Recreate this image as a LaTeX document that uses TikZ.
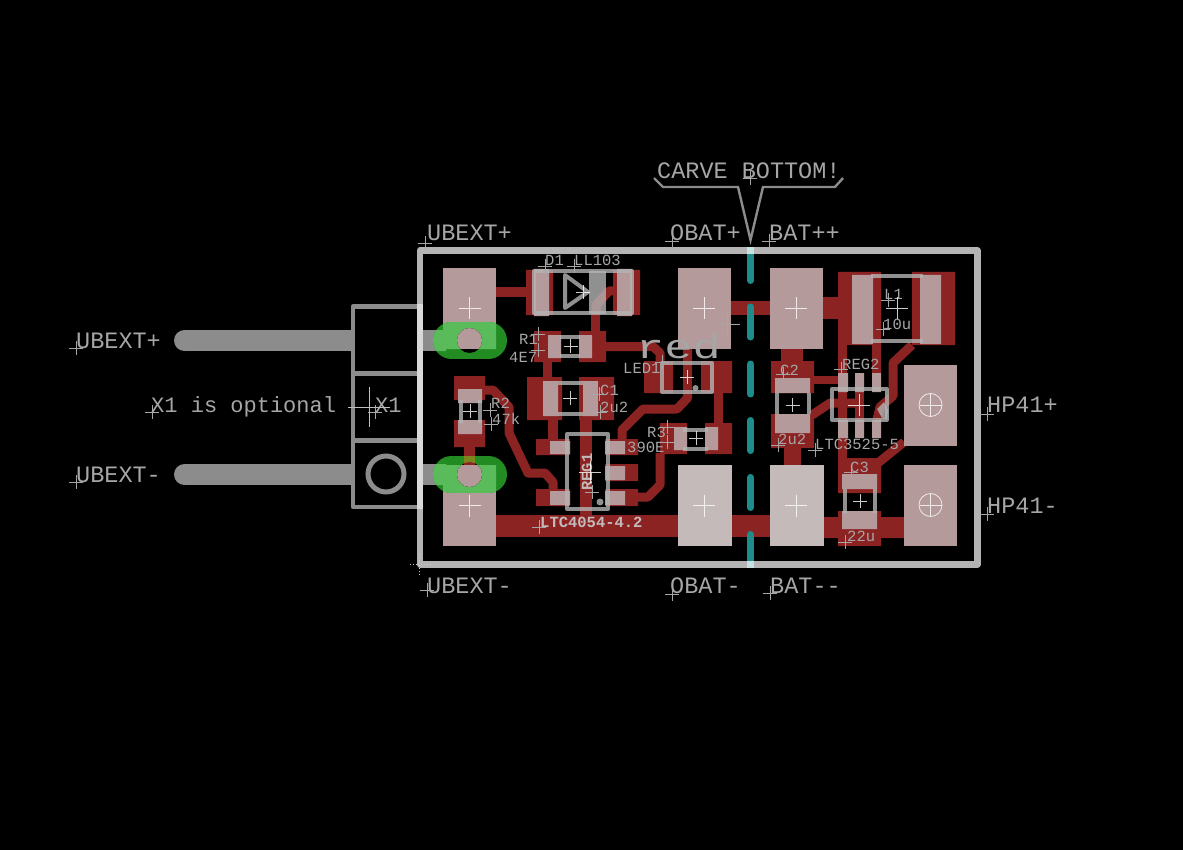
\documentclass[tikz,border=0pt]{standalone}
\usepackage{fontspec}
\setmonofont{Liberation Mono}
\definecolor{copperred}{HTML}{8C2323}
\definecolor{padpink}{HTML}{B49A9A}
\definecolor{padpale}{HTML}{C4BABA}
\definecolor{pingray}{HTML}{8C8C8C}
\definecolor{boardgray}{HTML}{B4B4B4}
\definecolor{txtgray}{HTML}{A6A6A6}
\definecolor{carveteal}{HTML}{1F8C8C}
\definecolor{viagreen}{HTML}{228B22}
\definecolor{vialight}{HTML}{5ABB5A}
\tikzset{
  copper/.style={fill=copperred},
  trace/.style={draw=copperred,line width=9pt,line join=round},
  pad/.style={fill=padpink},
  silk/.style={draw=boardgray,draw opacity=.8,line width=4pt,line join=round},
  silkfill/.style={fill=boardgray,fill opacity=.8},
  orig/.style={draw=txtgray,line width=.7pt},
  centremark/.style={draw=white,draw opacity=.8,line width=.8pt},
  lbl/.style={text=txtgray,anchor=base west,inner sep=0pt,font=\ttfamily\fontsize{23.5}{24}\selectfont},
  midlbl/.style={lbl,font=\ttfamily\fontsize{22}{24}\selectfont},
  smalllbl/.style={lbl,font=\ttfamily\fontsize{15.5}{16}\selectfont},
  boldlbl/.style={lbl,text=padpale,font=\ttfamily\bfseries\fontsize{15.5}{16}\selectfont},
}
\begin{document}
\begin{tikzpicture}[x=1pt,y=-1pt]
\useasboundingbox (0,0) rectangle (1183,850);
\fill[black] (0,0) rectangle (1183,850);

% connector X1
\foreach \y in {340.5,474.5}{
  \fill[pingray] (184.5,\y) circle (10.5);
  \fill[pingray] (184.5,\y-10.5) rectangle (353,\y+10.5);
  \fill[pingray] (420,\y-10.5) rectangle (446,\y+10.5);
}
\draw[pingray,line width=4.5pt,line join=round] (420,306.5)--(353,306.5)--(353,507)--(420,507);
\draw[pingray,line width=4.5pt] (353,373.5)--(420,373.5) (353,440.5)--(420,440.5);
\draw[pingray,line width=5pt] (386,474) circle (18);

% copper pads
\fill[copper] (526,270) rectangle (553,315) (613,270) rectangle (640,315); %D1
\fill[copper] (534,331) rectangle (561,362) (579,331) rectangle (606,362); %R1
\fill[copper] (527,377) rectangle (562,420) (579,377) rectangle (614,420); %C1
\fill[copper] (454,376) rectangle (485,400) (454,420) rectangle (485,447); %R2
\fill[copper] (644,361) rectangle (673,393) (701,361) rectangle (732,393); %LED1
\fill[copper] (660,423) rectangle (687,454) (705,423) rectangle (732,454); %R3
\fill[copper] (536,439) rectangle (570,455) (536,489) rectangle (570,506); %REG1
\fill[copper] (605,439) rectangle (638,455) (605,464) rectangle (638,481) (605,489) rectangle (638,506);
\fill[copper] (771,361) rectangle (814,393) (771,414) rectangle (814,448); %C2
\fill[copper] (838,458) rectangle (881,493) (838,511) rectangle (881,546); %C3
\fill[copper] (838,272) rectangle (881,345) (912,272) rectangle (955,345); %L1

% copper traces
\fill[copper] (496,287) rectangle (527,297);
\fill[copper] (591,315) rectangle (600,332);
\fill[copper] (543,362) rectangle (552,377);
\fill[copper] (548,420) rectangle (558,440);
\fill[copper] (580,420) rectangle (592,520);
\fill[copper] (496,515) rectangle (678,537);
\fill[copper] (731,515) rectangle (770,537);
\fill[copper] (731,301) rectangle (770,315);
\fill[copper] (714,393) rectangle (723,423);
\fill[copper] (464,447) rectangle (475,456);
\fill[copper] (781,349) rectangle (803,361);
\fill[copper] (784,448) rectangle (801,465);
\fill[copper] (823,297) rectangle (838,319);
\fill[copper] (814,376) rectangle (838,384);
\fill[copper] (838,345) rectangle (847,458);
\fill[copper] (872,345) rectangle (881,373);
\fill[copper] (855,373) rectangle (864,438);
\fill[copper] (872,373) rectangle (881,392);
\fill[copper] (838,420) rectangle (881,438);
\fill[black] (848,420) rectangle (855,438) (864,420) rectangle (872,438);
\fill[copper] (824,517) rectangle (838,538) (881,517) rectangle (904,538);
\draw[trace] (596,315)--(596,305)--(609,291)--(620,291);
\draw[trace] (606,346.5)--(653,346.5)--(660,353)--(660,365);
\draw[trace] (687.5,349)--(687.5,398)--(677,409)--(643,409)--(622,430)--(622,440);
\draw[trace] (660,453)--(660,485)--(648,497)--(630,497);
\draw[trace] (485,390)--(493,390)--(509,407)--(509,433)--(528,473)--(545,473)--(553,482)--(553,490);
\draw[trace] (812,415)--(830,403)--(860,403);
\draw[trace] (912,345)--(893,363)--(893,396)--(880,407)--(877,420);
\draw[trace] (878,463)--(904,442);

% big pads
\fill[pad] (443,268) rectangle (496,349);
\fill[pad] (443,465) rectangle (496,546);
\fill[pad] (678,268) rectangle (731,349);
\fill[pad] (770,268) rectangle (823,349);
\fill[pad] (904,365) rectangle (957,446);
\fill[pad] (904,465) rectangle (957,546);
\fill[padpale] (678,465) rectangle (732,546);
\fill[padpale] (770,465) rectangle (824,546);

% green pills and their holes
\draw[viagreen,line width=37pt,line cap=round] (451.5,340.5)--(488.5,340.5);
\draw[viagreen,line width=37pt,line cap=round] (451.5,474.5)--(488.5,474.5);
\begin{scope}
\clip (443,268) rectangle (496,349) (423,330) rectangle (446,351);
\draw[vialight,line width=37pt,line cap=round] (451.5,340.5)--(488.5,340.5);
\end{scope}
\begin{scope}
\clip (443,465) rectangle (496,546) (423,464) rectangle (446,485);
\draw[vialight,line width=37pt,line cap=round] (451.5,474.5)--(488.5,474.5);
\end{scope}
\fill[black] (469.5,340.5) circle (12.5);
\fill[black] (469.5,474.5) circle (12.5);
\fill[olive!70!viagreen] (464,456) rectangle (475,465);
\begin{scope}
\clip (469.5,340.5) circle (12.5);
\fill[pad] (443,268) rectangle (496,349);
\end{scope}
\begin{scope}
\clip (469.5,474.5) circle (12.5);
\fill[copper] (464,456) rectangle (475,465);
\fill[pad] (443,465) rectangle (496,546);
\end{scope}

% small pads
\fill[pad] (534,269) rectangle (549,316) (617,269) rectangle (632,316); %D1
\fill[pad] (548,335) rectangle (561,358) (579,335) rectangle (592,358); %R1
\fill[pad] (543,381) rectangle (558,416) (583,381) rectangle (598,416); %C1
\fill[pad] (458,389) rectangle (482,403) (458,420) rectangle (482,434); %R2
\fill[pad] (674,427) rectangle (687,450) (705,427) rectangle (718,450); %R3
\fill[pad] (550,441) rectangle (570,454) (550,491) rectangle (570,505); %REG1
\fill[pad] (605,441) rectangle (625,454) (605,466) rectangle (625,480) (605,491) rectangle (625,505);
\fill[pad] (775,378) rectangle (810,393) (775,414) rectangle (810,433); %C2
\fill[pad] (842,474) rectangle (877,489) (842,511) rectangle (877,529); %C3
\fill[pad] (852,275) rectangle (873,344) (920,275) rectangle (941,344); %L1
\fill[pad] (838,373) rectangle (848,392) (855,373) rectangle (864,392) (872,373) rectangle (881,392); %REG2
\fill[pad] (838,420) rectangle (848,438) (855,420) rectangle (864,438) (872,420) rectangle (881,438);

% component outlines
\draw[silk] (534,271) rectangle (632,313);
\draw[silk] (565,275)--(588,292)--(565,308)--cycle;
\fill[silkfill] (589,271) rectangle (606,314);
\draw[silk] (560,337)--(580,337) (560,355.5)--(580,355.5);
\draw[silk] (558,383)--(583,383) (558,414)--(583,414);
\draw[silk] (460.5,400)--(460.5,423) (479.5,400)--(479.5,423);
\draw[silk] (662,363) rectangle (712,392);
\fill[silkfill] (695.5,388) circle (3);
\draw[silk] (683,429.5)--(708,429.5) (683,449)--(708,449);
\draw[silk] (567,434) rectangle (608,509);
\fill[silkfill] (600,502) circle (3.5);
\draw[silk] (777,393)--(777,414) (809,393)--(809,414);
\draw[silk] (832,389) rectangle (887,420);
\fill[silkfill] (877,409)--(884,402)--(888,410)--(887,420)--(882,418)--cycle;
\draw[silk] (844.5,489)--(844.5,513) (875,489)--(875,513);
\draw[silk] (871,276.5)--(923,276.5) (871,340.5)--(923,340.5);

% board outline
\draw[boardgray,line width=6.5pt,line join=round] (420,250.5) rectangle (977.5,564.5);
\draw[white!85!black,line width=6.5pt] (420,304)--(420,509);

% carve marks
\foreach \y in {250.5,307,364,420.5,477.5,534.5}
  \draw[carveteal,line width=7pt,line cap=round] (750.5,\y)--(750.5,\y+30);
\draw[white!75!carveteal,line width=6.5pt] (750.5,247.5)--(750.5,254);
\draw[white!75!carveteal,line width=6.5pt] (750.5,561)--(750.5,568);
\draw[pingray,line width=2.4pt] (654,178)--(663,187)--(738,187)--(750.5,240)--(763,187)--(835,187)--(843,178);

% labels
\draw (76,348) node[lbl] (ubextpa) {UBEXT+};
\draw (76,482) node[lbl] (ubextma) {UBEXT-};
\draw (151,412) node[midlbl] (xopt) {X1 is optional};
\draw (375,412) node[midlbl] (xone) {X1};
\draw (427,241) node[lbl] (ubextpb) {UBEXT+};
\draw (427,593) node[lbl] (ubextmb) {UBEXT-};
\draw (670,241) node[lbl] (obatp) {OBAT+};
\draw (769,241) node[lbl] (batp) {BAT++};
\draw (670,593) node[lbl] (obatm) {OBAT-};
\draw (770,593) node[lbl] (batm) {BAT--};
\draw (987,412) node[lbl] (hpp) {HP41+};
\draw (987,513) node[lbl] (hpm) {HP41-};
\draw (657,178.5) node[lbl] (carve) {CARVE BOTTOM!};
\draw (636,358) node[lbl,font=\ttfamily\fontsize{47}{48}\selectfont] (redtxt) {\scalebox{1}[.72]{red}};
\draw (545,266) node[smalllbl] (dname) {D1};
\draw (574,266) node[smalllbl] (dval) {LL103};
\draw (519,344) node[smalllbl] (rname) {R1};
\draw (509,362) node[smalllbl] (rval) {4E7};
\draw (623,373) node[smalllbl] (lname) {LED1};
\draw (600,395) node[smalllbl] (cname) {C1};
\draw (600,412) node[smalllbl] (cval) {2u2};
\draw (491,408) node[smalllbl] (rtwo) {R2};
\draw (492,424) node[smalllbl] (rtwoval) {47k};
\draw (647,437) node[smalllbl] (rthree) {R3};
\draw (627,452) node[smalllbl] (rthreeval) {390E};
\draw (592,491) node[boldlbl,rotate=90] (regone) {REG1};
\draw (540,527) node[boldlbl] (regoneval) {LTC4054-4.2};
\draw (780,375) node[smalllbl] (ctwo) {C2};
\draw (778,444) node[smalllbl] (ctwoval) {2u2};
\draw (842,369) node[smalllbl] (regtwo) {REG2};
\draw (815,449) node[smalllbl] (regtwoval) {LTC3525-5};
\draw (884,300) node[smalllbl] (lone) {L1};
\draw (883,329) node[smalllbl] (loneval) {10u};
\draw (850,472) node[smalllbl] (cthree) {C3};
\draw (847,541) node[smalllbl] (cthreeval) {22u};

% origin crosses
\foreach \x/\y in {76/348,76/482,152/412,375/412,425/243,427/590,672/241,769/241,750/178,672/594,770/593,987/414,987/514,
  545/266,574/266,538/334,538/350,662/362,599/394,600/412,490/410,491/424,667/427,667/442,592/492,539/527,
  783/374,841/369,778/445,815/450,888/300,883/329,851/472,845/542}
  \draw[orig] (\x-7,\y)--(\x+7,\y) (\x,\y-7)--(\x,\y+7);
\draw[orig] (715,324.5)--(740,324.5) (727.5,311)--(727.5,338);
\draw[orig,white!75!black] (348,407)--(390,407) (369,387)--(369,427);

% pad and part centres
\foreach \x/\y in {469.5/308,469.5/505.5,704/308,704/505.5,796/308,796/505.5,930.5/405,930.5/505,590/472,859/405,897/308}
  \draw[centremark] (\x-11,\y)--(\x+11,\y) (\x,\y-11)--(\x,\y+11);
\foreach \x/\y in {583/292,570.5/346,570/398,470/411,696/438,687/377,792.5/405,860/501}
  \draw[centremark] (\x-7,\y)--(\x+7,\y) (\x,\y-7)--(\x,\y+7);
\draw[centremark] (930.5,405) circle (11.5) (930.5,505) circle (11.5);
\draw[white!80!black,line width=.8pt,dotted] (410,564)--(430,564) (419,554)--(419,575);
\end{tikzpicture}
\end{document}
